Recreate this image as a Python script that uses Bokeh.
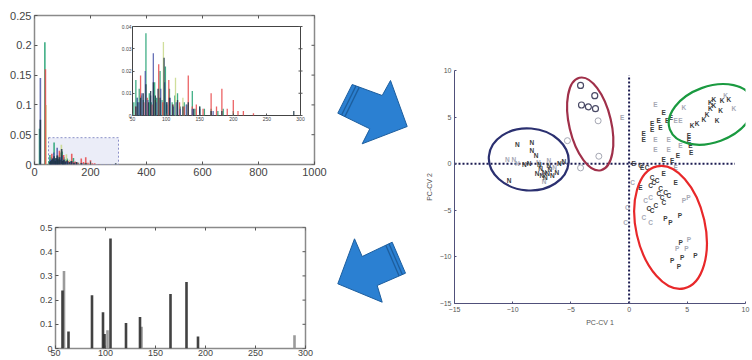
import math
from bokeh.plotting import figure
from bokeh.layouts import row, column, Spacer
from bokeh.models import Range1d, LinearAxis, FixedTicker, ColumnDataSource
from bokeh.core.properties import value
from bokeh.embed import file_html
from bokeh.resources import INLINE

FONT = "Liberation Sans"

# ---------------- spectra (top-left panel) ----------------
spec_blue_mz = [21, 57, 60, 64, 69, 73, 77, 81, 85, 92, 98, 101, 106, 111, 115, 121, 130, 139, 150, 170]
spec_blue_i = [0.145, 0.008, 0.006, 0.010, 0.020, 0.007, 0.009, 0.028, 0.006, 0.012, 0.015, 0.006, 0.008, 0.004, 0.006, 0.003, 0.005, 0.003, 0.003, 0.002]
spec_red_mz = [39, 55, 62, 67, 72, 79, 84, 89, 95, 104, 110, 120, 127, 133, 139, 145, 155, 167, 175, 183, 191, 200, 207, 215, 230]
spec_red_i = [0.160, 0.004, 0.018, 0.006, 0.008, 0.005, 0.007, 0.023, 0.006, 0.016, 0.005, 0.006, 0.004, 0.018, 0.004, 0.005, 0.003, 0.010, 0.004, 0.012, 0.003, 0.007, 0.002, 0.002, 0.001]
spec_lime_mz = [41, 96, 114, 125]
spec_lime_i = [0.100, 0.033, 0.017, 0.008]
spec_green_mz = [18, 37, 52, 55, 57, 60, 63, 66, 70, 75, 78, 83, 86, 91, 94, 99, 101, 105, 109, 113, 117, 121, 127, 131, 139, 143, 150, 157, 167, 177, 185, 200]
spec_green_i = [0.060, 0.205, 0.006, 0.016, 0.008, 0.012, 0.009, 0.007, 0.037, 0.010, 0.006, 0.015, 0.008, 0.020, 0.007, 0.022, 0.005, 0.012, 0.006, 0.009, 0.010, 0.004, 0.006, 0.005, 0.011, 0.003, 0.004, 0.003, 0.003, 0.002, 0.003, 0.002]
spec_dark_mz = [21, 55, 58, 62, 66, 70, 74, 77, 81, 84, 88, 91, 97, 101, 105, 110, 117, 125, 133, 141, 150, 167, 183, 290]
spec_dark_i = [0.075, 0.004, 0.006, 0.008, 0.010, 0.014, 0.006, 0.011, 0.015, 0.009, 0.012, 0.008, 0.026, 0.006, 0.008, 0.005, 0.007, 0.004, 0.006, 0.003, 0.004, 0.002, 0.002, 0.002]

main_x_ticks = [0, 200, 400, 600, 800, 1000]
main_y_ticks = [0, 0.05, 0.1, 0.15, 0.2, 0.25]
main_y_labels = ["0", "0.05", "0.1", "0.15", "0.2", "0.25"]
zoom_box_x = [50, 300]
zoom_box_y = [0, 0.045]
inset_x_ticks = [50, 100, 150, 200, 250, 300]
inset_y_ticks = [0, 0.01, 0.02, 0.03, 0.04]
inset_y_labels = ["0", "0.01", "0.02", "0.03", "0.04"]

# ---------------- selected variables (bottom-left panel) ----------------
bar_dark_x = [57, 63, 86.5, 97.5, 99, 105, 120.5, 134.5, 165, 181, 192.5]
bar_dark_h = [0.24, 0.07, 0.22, 0.15, 0.06, 0.455, 0.105, 0.13, 0.225, 0.275, 0.05]
bar_light_x = [58.5, 102, 136, 289]
bar_light_h = [0.32, 0.075, 0.09, 0.055]
bar_x_ticks = [50, 100, 150, 200, 250, 300]
bar_y_ticks = [0, 0.1, 0.2, 0.3, 0.4, 0.5]
bar_y_labels = ["0", "0.1", "0.2", "0.3", "0.4", "0.5"]

# ---------------- PC-CV scores (right panel) ----------------
n_dark_x = [-9.6, -8.35, -8.35, -8.0, -10.3, -7.6, -7.0, -6.6, -6.2, -7.9, -7.3, -6.8, -7.2, -8.6, -9.0, -6.0, -5.6, -7.5, -6.9, -7.7]
n_dark_y = [2.05, 2.25, 1.45, 0.85, -1.85, -0.55, -1.1, -1.3, -0.9, -1.1, -0.9, -0.6, -1.5, 0.0, -0.1, 0.0, 0.2, -1.3, -0.2, -0.1]
n_light_x = [-10.45, -9.9, -9.6, -7.8, -6.9, -7.3, -6.4]
n_light_y = [0.5, 0.4, 0.0, 0.15, 0.3, -1.95, -0.4]
e_dark_x = [2.98, 3.27, 2.55, 2.7, 1.98, 1.98, 1.26, 1.26, 5.13, 5.13, 5.27, 5.33, 2.98, 3.7, 0.4, 1.12, 2.98, 3.99, 0.98, 3.6, 4.2]
e_dark_y = [5.5, 4.6, 4.6, 3.9, 4.26, 3.72, 3.19, 2.65, 3.0, 2.47, 1.93, 1.21, 0.5, 0.32, -0.03, -0.4, -1.1, -2.0, -2.54, 5.0, 0.9]
e_light_x = [-0.6, 2.27, 2.27, 3.41, 3.99, 4.41, 4.41, 2.27, 3.41, 3.99]
e_light_y = [4.97, 6.4, 2.65, 2.65, 4.6, 4.6, 1.93, 1.57, 1.57, -0.4]
k_dark_x = [5.42, 5.85, 6.42, 6.7, 6.99, 7.27, 7.85, 7.27, 6.99, 7.99, 8.57, 7.56]
k_dark_y = [4.15, 4.26, 4.79, 5.33, 5.87, 6.22, 5.69, 6.94, 6.58, 6.76, 6.94, 4.6]
k_light_x = [9.0, 4.7, 8.3]
k_light_y = [5.87, 6.05, 7.3]
c_dark_x = [0.98, 1.55, 1.98, 2.12, 1.84, 2.7, 2.55, 2.84, 3.13, 3.41, 2.98, 2.3, 1.7, 1.98, 2.4]
c_dark_y = [-0.21, -0.4, -1.47, -2.0, -2.36, -2.7, -3.25, -3.6, -3.07, -3.43, -4.15, -4.5, -4.86, -5.04, -1.8]
c_light_x = [1.84, 1.41, 1.26, 1.84, -0.16, -0.31, 0.3]
c_light_y = [-3.6, -3.97, -5.76, -6.3, -4.69, -6.3, -2.0]
p_dark_x = [3.13, 3.56, 4.36, 4.42, 3.7, 4.56, 5.7, 4.27]
p_dark_y = [-5.93, -6.3, -5.58, -8.44, -10.4, -10.05, -9.87, -11.05]
p_light_x = [5.13, 4.13, 4.93, 4.7, 5.1]
p_light_y = [-8.08, -9.15, -9.15, -3.97, -3.6]
o_dark_x = [-4.17, -2.95, -4.09, -3.5, -2.89]
o_dark_y = [8.4, 7.3, 6.3, 6.1, 5.9]
o_light_x = [-2.66, -2.6, -4.17, -5.3]
o_light_y = [4.6, 0.8, -0.45, 2.47]

ell_x = [-8.62, -3.34, 7.05, 3.56]
ell_y = [0.46, 4.26, 5.29, -6.83]
sc_ticks = [-15, -10, -5, 0, 5, 10]
zero_h_extent = [-15, 9.1]
zero_v_extent = [-15, 9.5]

TICK_COL = "#555555"


def style_axis(ax, size):
    ax.axis_line_color = None
    ax.major_tick_in = 3
    ax.major_tick_out = 0
    ax.major_tick_line_color = TICK_COL
    ax.minor_tick_line_color = None
    ax.major_label_text_font_size = size
    ax.major_label_text_color = "#444444"
    ax.major_label_text_font = FONT
    ax.major_label_standoff = 3


def inner_ticks(fig, xt, yt, x_end, y_end):
    # tick marks on the top and right edges of a boxed (matlab-like) frame
    fig.scatter(x=xt, y=[y_end] * len(xt), marker="dash", angle=math.pi / 2, size=6,
                line_color=TICK_COL, line_width=1)
    fig.scatter(x=[x_end] * len(yt), y=yt, marker="dash", angle=0, size=6,
                line_color=TICK_COL, line_width=1)


# ======================= TOP-LEFT =======================
LW = 330
LB, RB = 34, 16  # common left/right borders of the two left panels
FW, FT, FH, TH = 280, 15, 149, 190
top = figure(width=LB + FW + RB, height=TH, x_range=Range1d(0, 1000), y_range=Range1d(0, 0.25),
             output_backend="svg", toolbar_location=None,
             min_border_left=LB, min_border_right=RB,
             min_border_top=FT, min_border_bottom=TH - FT - FH)
top.grid.visible = False
top.outline_line_color = "#8a8a8a"
top.outline_line_width = 1.5
top.xaxis.ticker = FixedTicker(ticks=main_x_ticks)
top.yaxis.ticker = FixedTicker(ticks=main_y_ticks)
top.yaxis.major_label_overrides = dict(zip(main_y_ticks, main_y_labels))
style_axis(top.xaxis[0], "11px")
style_axis(top.yaxis[0], "11px")
inner_ticks(top, main_x_ticks, main_y_ticks, 1000, 0.25)

top.quad(left=zoom_box_x[0], right=zoom_box_x[1], bottom=zoom_box_y[0], top=zoom_box_y[1],
         fill_color="#e6e8f6", fill_alpha=0.8, line_color="#8c90c8", line_dash="2 2", line_width=1)

series = [
    (spec_green_mz, spec_green_i, "#1fa070"),
    (spec_lime_mz, spec_lime_i, "#c8d88a"),
    (spec_red_mz, spec_red_i, "#e8484a"),
    (spec_blue_mz, spec_blue_i, "#4a56a8"),
    (spec_dark_mz, spec_dark_i, "#1c3444"),
]
for mz, it, col in series:
    top.segment(x0=mz, y0=[0] * len(mz), x1=mz, y1=it, line_color=col, line_width=1.6, line_alpha=0.85)

# inset mapped to a sub-region of the frame (pixel box 132..300 x 26..115)
IL, IR = (132 - LB) / FW, (300 - LB) / FW
IB, IT = (FT + FH - 115) / FH, (FT + FH - 26) / FH
ixs = (inset_x_ticks[-1] - inset_x_ticks[0]) / (IR - IL)
ix0 = inset_x_ticks[0] - IL * ixs
iys = (inset_y_ticks[-1] - inset_y_ticks[0]) / (IT - IB)
iy0 = inset_y_ticks[0] - IB * iys
top.extra_x_ranges = {"ix": Range1d(ix0, ix0 + ixs)}
top.extra_y_ranges = {"iy": Range1d(iy0, iy0 + iys)}

top.quad(left=inset_x_ticks[0], right=inset_x_ticks[-1], bottom=inset_y_ticks[0], top=inset_y_ticks[-1],
         x_range_name="ix", y_range_name="iy", fill_color="white", line_color="#444444", line_width=1)
for mz, it, col in series:
    sel = [(m, v) for m, v in zip(mz, it) if inset_x_ticks[0] <= m <= inset_x_ticks[-1]]
    xs = [m for m, v in sel]
    hs = [v for m, v in sel]
    top.segment(x0=xs, y0=[0] * len(xs), x1=xs, y1=hs, x_range_name="ix", y_range_name="iy",
                line_color=col, line_width=1.3, line_alpha=0.85)
top.scatter(x=[inset_x_ticks[-1]] * len(inset_y_ticks), y=inset_y_ticks, x_range_name="ix", y_range_name="iy",
            marker="dash", size=4, line_color=TICK_COL)

iax = LinearAxis(x_range_name="ix", y_range_name="iy", fixed_location=0, bounds=(50, 300),
                 ticker=FixedTicker(ticks=inset_x_ticks))
iay = LinearAxis(x_range_name="ix", y_range_name="iy", fixed_location=50, bounds=(0, 0.04),
                 ticker=FixedTicker(ticks=inset_y_ticks),
                 major_label_overrides=dict(zip(inset_y_ticks, inset_y_labels)))
for a in (iax, iay):
    style_axis(a, "5px")
    a.major_tick_in = 2
    a.major_label_standoff = 1
top.add_layout(iax, "below")
top.add_layout(iay, "left")

# ======================= BOTTOM-LEFT =======================
BX = 21  # horizontal offset of the lower panel (its frame spans x 55..305)
BW, BT, BH, BHT = 250, 37, 121, 170
bt = figure(width=LB + BW + RB, height=BHT, x_range=Range1d(50, 300), y_range=Range1d(0, 0.5),
            output_backend="svg", toolbar_location=None,
            min_border_left=LB, min_border_right=RB,
            min_border_top=BT, min_border_bottom=BHT - BT - BH)
bt.grid.visible = False
bt.outline_line_color = "#8a8a8a"
bt.outline_line_width = 1.5
bt.xaxis.ticker = FixedTicker(ticks=bar_x_ticks)
bt.yaxis.ticker = FixedTicker(ticks=bar_y_ticks)
bt.yaxis.major_label_overrides = dict(zip(bar_y_ticks, bar_y_labels))
style_axis(bt.xaxis[0], "9px")
style_axis(bt.yaxis[0], "9px")
bt.xaxis.major_label_standoff = 1
inner_ticks(bt, bar_x_ticks, bar_y_ticks, 300, 0.5)
bt.vbar(x=bar_light_x, top=bar_light_h, width=2.6, fill_color="#9a9a9a", line_color=None)
bt.vbar(x=bar_dark_x, top=bar_dark_h, width=2.6, fill_color="#2e2e2e", line_color=None, fill_alpha=0.9)

# ======================= RIGHT: PC-CV (borders shared with the arrow strip) =======================
AW = 90
RW = 752 - LW - AW
SL, SW, ST, SH = 34, 291, 70, 233
SB = 360 - ST - SH

# ======================= ARROWS =======================
ar = figure(width=AW, height=360, x_range=Range1d(330, 420), y_range=Range1d(ST + SH, ST),
            output_backend="svg", toolbar_location=None, x_axis_type=None, y_axis_type=None,
            min_border_left=0, min_border_right=0, min_border_top=ST, min_border_bottom=SB)
ar.outline_line_color = None
ar.grid.visible = False
arrow_xs = [[351.7, 337.3, 369.3, 361.7, 406.7, 390.0, 381.7],
            [337.3, 354.0, 361.7, 391.7, 405.0, 376.7, 381.7]]
arrow_ys = [[84.0, 112.7, 128.3, 143.3, 126.0, 80.0, 95.0],
            [283.3, 238.3, 256.0, 241.7, 272.7, 285.0, 301.7]]
ar.patches(xs=arrow_xs, ys=arrow_ys, fill_color="#2b80d2", line_color="#1d5e9e", line_width=1)
stripe_xs = [[355.5, 341.1], [358.8, 344.4], [388.5, 401.8], [385.3, 398.6]]
stripe_ys = [[85.4, 114.5], [86.6, 116.1], [243.2, 274.1], [244.7, 275.5]]
ar.multi_line(xs=stripe_xs, ys=stripe_ys, line_color="#1d5e9e", line_width=1.3)

sc = figure(width=RW, height=360, x_range=Range1d(-15, 10), y_range=Range1d(-15, 10),
            output_backend="svg", toolbar_location=None,
            min_border_left=SL, min_border_right=RW - SL - SW,
            min_border_top=ST, min_border_bottom=SB)
sc.grid.visible = False
sc.outline_line_color = None
for a in (sc.xaxis[0], sc.yaxis[0]):
    a.ticker = FixedTicker(ticks=sc_ticks)
    a.axis_line_color = "#50507a"
    a.axis_line_width = 1
    a.major_tick_in = 2
    a.major_tick_out = 0
    a.major_tick_line_color = "#50507a"
    a.minor_tick_line_color = None
    a.major_label_text_font_size = "7px"
    a.major_label_text_color = "#555555"
    a.major_label_text_font = FONT
    a.major_label_standoff = 3
    a.axis_label_text_font_size = "7px"
    a.axis_label_text_font_style = "normal"
    a.axis_label_text_color = "#555555"
    a.axis_label_text_font = FONT
    a.axis_label_standoff = 4
sc.xaxis.axis_label = "PC-CV 1"
sc.yaxis.axis_label = "PC-CV 2"

sc.segment(x0=[zero_h_extent[0], 0], y0=[0, zero_v_extent[0]], x1=[zero_h_extent[1], 0], y1=[0, zero_v_extent[1]],
           line_color="#1c1c52", line_width=2, line_dash="2 2")

lx, ly, lt, lc = [], [], [], []
groups = [("N", n_dark_x, n_dark_y, n_light_x, n_light_y),
          ("E", e_dark_x, e_dark_y, e_light_x, e_light_y),
          ("K", k_dark_x, k_dark_y, k_light_x, k_light_y),
          ("C", c_dark_x, c_dark_y, c_light_x, c_light_y),
          ("P", p_dark_x, p_dark_y, p_light_x, p_light_y)]
for lbl, dx, dy, qx, qy in groups:
    for x, y in zip(qx, qy):
        lx.append(x); ly.append(y); lt.append(lbl); lc.append("#a6a8b4")
    for x, y in zip(dx, dy):
        lx.append(x); ly.append(y); lt.append(lbl); lc.append("#3a3a3a")
src = ColumnDataSource(dict(x=lx, y=ly, t=lt, c=lc))
sc.text(x="x", y="y", text="t", text_color="c", source=src, text_font_size="6.5px",
        text_align="center", text_baseline="middle", text_font=value(FONT), text_font_style="bold")
sc.scatter(x=o_light_x, y=o_light_y, marker="circle", size=6, fill_color=None, line_color="#a6a8b4", line_width=1)
sc.scatter(x=o_dark_x, y=o_dark_y, marker="circle", size=6, fill_color=None, line_color="#4a4a66", line_width=1.2)

sc.ellipse(x=ell_x, y=ell_y, width=[80, 42, 88, 69], height=[62, 95, 56, 125],
           angle=[-0.08, 0.23, 0.35, 0.22], width_units="screen", height_units="screen",
           fill_color=None, line_color=["#2b3070", "#a0304a", "#1a9a40", "#e8282a"], line_width=2.2)

left_col = column(top, row(Spacer(width=BX, height=BHT), bt), width=LW)
layout = row(left_col, ar, sc)
open("out.html", "w").write(file_html(layout, INLINE))
